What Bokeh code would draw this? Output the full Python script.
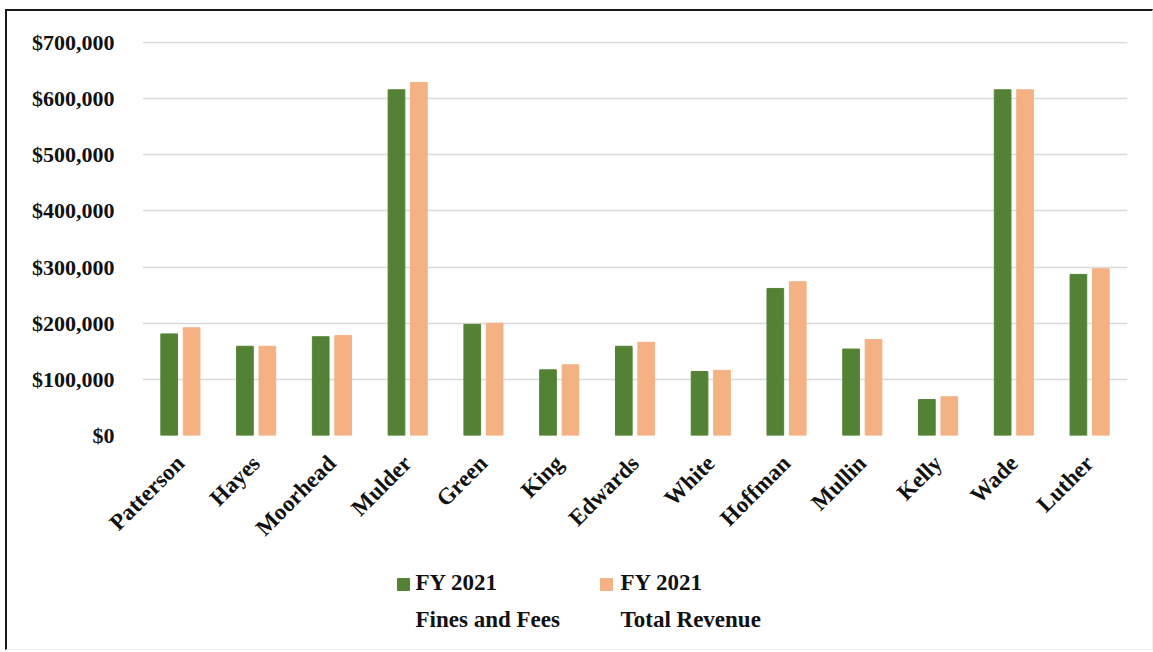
import math
from bokeh.plotting import figure
from bokeh.layouts import column
from bokeh.models import ColumnDataSource, FactorRange, FixedTicker, Range1d
from bokeh.core.properties import value
from bokeh.transform import dodge
from bokeh.embed import file_html
from bokeh.resources import INLINE

officials = ["Patterson", "Hayes", "Moorhead", "Mulder", "Green", "King", "Edwards",
             "White", "Hoffman", "Mullin", "Kelly", "Wade", "Luther"]
fines_fees = [181000, 159000, 176000, 616000, 198000, 117000, 159000,
              114000, 262000, 154000, 64000, 616000, 287000]
total_revenue = [192000, 159000, 178000, 629000, 200000, 126000, 166000,
                 116000, 274000, 171000, 69000, 616000, 297000]
series_line1 = ["FY 2021", "FY 2021"]
series_line2 = ["Fines and Fees", "Total Revenue"]
y_ticks = [0, 100000, 200000, 300000, 400000, 500000, 600000, 700000]
y_tick_labels = ["$0", "$100,000", "$200,000", "$300,000", "$400,000",
                 "$500,000", "$600,000", "$700,000"]

GREEN = "#548235"
ORANGE = "#F4B183"
FONT = "Liberation Serif"
TXT = "#111111"
W = 1145
BL, BR = 135, 25
FW = W - BL - BR

src = ColumnDataSource(dict(officials=officials, fines=fines_fees, total=total_revenue))

p = figure(x_range=FactorRange(factors=officials), y_range=Range1d(0, 702000),
           width=W, height=557, output_backend="svg", toolbar_location=None,
           min_border_left=BL, min_border_right=BR, min_border_top=30, min_border_bottom=133)

p.vbar(x=dodge("officials", -0.148, range=p.x_range), top="fines", width=0.22,
       source=src, fill_color=GREEN, line_color=GREEN)
p.vbar(x=dodge("officials", 0.148, range=p.x_range), top="total", width=0.22,
       source=src, fill_color=ORANGE, line_color=ORANGE)

p.outline_line_color = None
p.xgrid.grid_line_color = None
p.ygrid.grid_line_color = "#d9d9d9"
p.ygrid.grid_line_width = 1.5
p.yaxis.ticker = FixedTicker(ticks=y_ticks)
p.yaxis.major_label_overrides = {t: l for t, l in zip(y_ticks, y_tick_labels)}

for ax in (p.xaxis, p.yaxis):
    ax.axis_line_color = None
    ax.major_tick_line_color = None
    ax.minor_tick_line_color = None
    ax.major_label_text_font = FONT
    ax.major_label_text_font_style = "bold"
    ax.major_label_text_color = TXT

p.yaxis.major_label_text_font_size = "22px"
p.xaxis.major_label_text_font_size = "23px"
p.yaxis.major_label_standoff = 22
p.xaxis.major_label_orientation = math.pi / 4
p.xaxis.major_label_standoff = 18

# legend strip drawn as its own small figure; its frame lines up with the chart frame
lg = figure(width=W, height=81, x_range=Range1d(0, FW), y_range=Range1d(0, 81),
            output_backend="svg", toolbar_location=None,
            min_border_left=BL, min_border_right=BR, min_border_top=0, min_border_bottom=0,
            outline_line_color=None)
lg.axis.visible = False
lg.grid.visible = False
leg_src = ColumnDataSource(dict(
    sx=[261, 464], sy=[65, 65], color=[GREEN, ORANGE],
    tx=[273, 478], l1y=[67, 67], l2y=[30, 30],
    line1=series_line1, line2=series_line2))
lg.rect(x="sx", y="sy", width=12, height=12, fill_color="color", line_color="color",
        source=leg_src)
for ycol, tcol in (("l1y", "line1"), ("l2y", "line2")):
    lg.text(x="tx", y=ycol, text=tcol, source=leg_src, text_font=value(FONT),
            text_font_style="bold", text_font_size="23px", text_color=TXT,
            text_baseline="middle", text_align="left")

layout = column(p, lg, spacing=0)
layout.styles = {"margin-left": "5px", "margin-top": "9px",
                 "border-left": "2px solid #1a1a1a", "border-top": "2px solid #1a1a1a",
                 "border-right": "1px solid #eeeeee", "border-bottom": "1px solid #eeeeee"}

open("out.html", "w").write(file_html(layout, INLINE))
